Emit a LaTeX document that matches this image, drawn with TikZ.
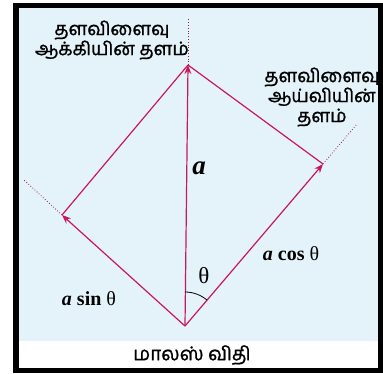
\documentclass[tikz,border=0pt]{standalone}
\usepackage{fontspec}
\newfontfamily\tamil[Script=Tamil, AutoFakeBold=1.2]{Hind Madurai}
\newfontfamily\lsr{Liberation Serif}
\usetikzlibrary{arrows.meta,calc}
\definecolor{vec}{HTML}{C8185C}
\definecolor{bgblue}{HTML}{E4F2F9}
\tikzset{
  vecline/.style={draw=vec, line width=1.2pt},
  vecarrow/.style={vecline, -{Stealth[length=9pt,width=7pt]}},
  dotline/.style={draw=vec!80!black, line width=0.8pt, dotted},
  tlabel/.style={font=\tamil\bfseries\fontsize{18.5}{20}\selectfont, align=center, text=black, inner sep=0pt},
  mlabel/.style={font=\lsr\fontsize{20}{22}\selectfont, text=black, inner sep=0pt}
}
\begin{document}
\begin{tikzpicture}[x=1pt,y=-1pt]
\useasboundingbox (0,0) rectangle (383,373);
\fill[black] (13,3) rectangle (383,373);
\fill[white] (19,8) rectangle (378,368);
\fill[bgblue] (19,8) rectangle (378,341);
\coordinate (O) at (185,326);
\coordinate (A) at (188,65);
\coordinate (L) at (62,215);
\coordinate (R) at (323,164);
\coordinate (Ae) at (188,18);
\coordinate (Le) at (24,180);
\coordinate (Re) at (357,124);
\draw[dotline] (A) -- (Ae);
\draw[dotline] (L) -- (Le);
\draw[dotline] (R) -- (Re);
\draw[vecline] (L) -- (A);
\draw[vecline] (R) -- (A);
\draw[vecarrow] (O) -- (A);
\draw[vecarrow] (O) -- (L);
\draw[vecarrow] (O) -- (R);
\draw[line width=0.8pt] ($(O)+(0,-34)$) arc[start angle=-90, end angle=-49.6, radius=34];
\node[tlabel] (t1) at (112,40) {தளவிளைவு\\ஆக்கியின் தளம்};
\node[tlabel] (t2) at (322,97) {தளவிளைவு\\ஆய்வியின்\\தளம்};
\node[mlabel, font=\lsr\fontsize{27}{29}\selectfont\bfseries\itshape] (la) at (199,168) {a};
\node[mlabel] (lc) at (291,254) {\textbf{\textit{a} cos} θ};
\node[mlabel, font=\lsr\fontsize{23}{25}\selectfont] (lt) at (204,276) {θ};
\node[mlabel] (ls) at (89,299) {\textbf{\textit{a} sin} θ};
\node[tlabel, font=\tamil\bfseries\fontsize{19}{22}\selectfont] (cap) at (192,355) {மாலஸ் விதி};
\end{tikzpicture}
\end{document}
